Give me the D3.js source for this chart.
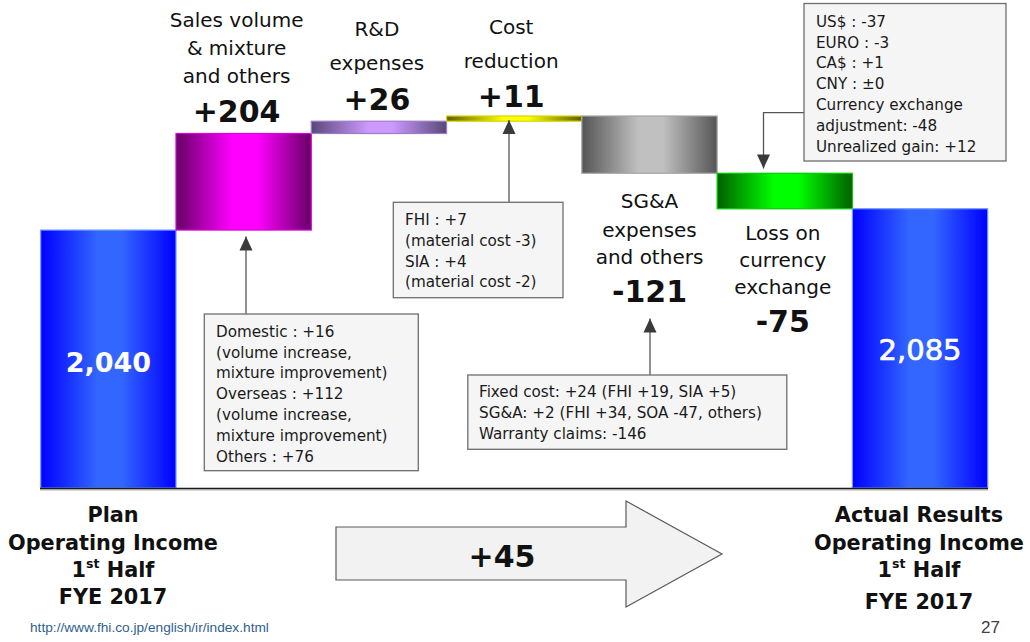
<!DOCTYPE html>
<html>
<head>
<meta charset="utf-8">
<script src="https://cdn.jsdelivr.net/npm/d3@7/dist/d3.min.js"></script>
<style>
  html, body { margin: 0; padding: 0; background: #fff; }
  svg { display: block; }
  text { font-family: "DejaVu Sans", Verdana, sans-serif; }
</style>
</head>
<body>
<div id="chart"></div>
<script>
"use strict";

// waterfall steps, plan -> actual (100 million yen)
var categories = ["Plan", "Sales", "R&D", "Cost", "SG&A", "Loss", "Actual"];
var values = [2040, 204, 26, 11, -121, -75, 2085];
var totals = [true, false, false, false, false, false, true];

var stepNames = [
  null,
  ["Sales volume", "& mixture", "and others"],
  ["R&D", "expenses"],
  ["Cost", "reduction"],
  ["SG&A", "expenses", "and others"],
  ["Loss on", "currency", "exchange"],
  null
];

var salesNotes = ["Domestic : +16", "(volume increase,", "mixture improvement)",
  "Overseas : +112", "(volume increase,", "mixture improvement)", "Others : +76"];
var costNotes = ["FHI : +7", "(material cost -3)", "SIA : +4", "(material cost -2)"];
var sgaNotes = ["Fixed cost: +24 (FHI +19, SIA +5)", "SG&A: +2 (FHI +34, SOA -47, others)",
  "Warranty claims: -146"];
var fxNotes = ["US$ : -37", "EURO : -3", "CA$ : +1", "CNY : \u00b10", "Currency exchange",
  "adjustment: -48", "Unrealized gain: +12"];

var leftTitle = ["Plan", "Operating Income", "1|st| Half", "FYE 2017"];
var rightTitle = ["Actual Results", "Operating Income", "1|st| Half", "FYE 2017"];
var changeLabel = "+45";

var width = 1030, height = 642;

var svg = d3.select("#chart").append("svg")
  .attr("width", width)
  .attr("height", height);

var defs = svg.append("defs");

// cylinder look: dark edges, bright middle
var palette = {
  blue:    { edge: "#0000ff", mid: "#3366ff", line: "#6b9bff" },
  magenta: { edge: "#660066", mid: "#ff00ff", line: "#dd00dd" },
  lilac:   { edge: "#584878", mid: "#cc99ff", line: "#9c7cc8" },
  yellow:  { edge: "#5e5e00", mid: "#ffff00", line: "#d8d800" },
  gray:    { edge: "#555555", mid: "#c0c0c0", line: "#a6a6a6" },
  green:   { edge: "#006000", mid: "#00ff00", line: "#00cc00" }
};
var barColor = ["blue", "magenta", "lilac", "yellow", "gray", "green", "blue"];

Object.keys(palette).forEach(function(k) {
  var g = defs.append("linearGradient").attr("id", "g-" + k)
    .attr("x1", "0%").attr("x2", "100%").attr("y1", "0%").attr("y2", "0%");
  g.append("stop").attr("offset", "0%").attr("stop-color", palette[k].edge);
  g.append("stop").attr("offset", "42%").attr("stop-color", palette[k].mid);
  g.append("stop").attr("offset", "60%").attr("stop-color", palette[k].mid);
  g.append("stop").attr("offset", "100%").attr("stop-color", palette[k].edge);
});

// running totals
var steps = [], run = 0;
values.forEach(function(v, i) {
  if (totals[i]) { steps.push({ i: i, lo: 1495, hi: v, v: v }); run = v; }
  else { var s = run; run += v; steps.push({ i: i, lo: Math.min(s, run), hi: Math.max(s, run), v: v }); }
});

var x = d3.scaleBand().domain(categories).range([40.7, 987.7]).padding(0);
var y = d3.scaleLinear().domain([1495, 2281]).range([488, 116]);

var cx = function(i) { return x(categories[i]) + x.bandwidth() / 2; };

svg.selectAll("rect.bar")
  .data(steps)
  .enter().append("rect")
    .attr("class", "bar")
    .attr("x", function(d) { return x(categories[d.i]); })
    .attr("y", function(d) { return y(d.hi); })
    .attr("width", x.bandwidth())
    .attr("height", function(d) { return y(d.lo) - y(d.hi); })
    .style("fill", function(d) { return "url(#g-" + barColor[d.i] + ")"; })
    .style("stroke", function(d) { return palette[barColor[d.i]].line; })
    .style("stroke-width", 1.2);

// baseline
svg.append("line")
  .attr("x1", 40).attr("x2", 988).attr("y1", y(1495) + 0.5).attr("y2", y(1495) + 0.5)
  .style("stroke", "#d8d8d8").style("stroke-width", 2).attr("transform", "translate(0,1.5)");
svg.append("line")
  .attr("x1", 40).attr("x2", 988).attr("y1", y(1495) + 0.5).attr("y2", y(1495) + 0.5)
  .style("stroke", "#1a1a1a").style("stroke-width", 1.5);

// totals inside bars
svg.append("text")
  .attr("x", cx(0)).attr("y", 362)
  .attr("text-anchor", "middle").attr("dominant-baseline", "central")
  .style("font-size", "27px").style("font-weight", "bold").style("fill", "#fff")
  .text(d3.format(",")(values[0]));
svg.append("text")
  .attr("x", cx(6)).attr("y", 350)
  .attr("text-anchor", "middle").attr("dominant-baseline", "central")
  .style("font-size", "29px").style("fill", "#fff")
  .style("stroke", "#fff").style("stroke-width", 0.7)
  .text(d3.format(",")(values[6]));

// step captions
var capLayout = {
  1: { dx: -7, lines: [20, 48.3, 76], val: 111.7 },
  2: { dx: -2, lines: [29.3, 62.7], val: 99.3 },
  3: { dx: -3, lines: [26.7, 61], val: 96.7 },
  4: { dx: 0, lines: [200.7, 230, 256.7], val: 291.7 },
  5: { dx: -2, lines: [232.7, 260, 287.3], val: 321.7 }
};
var signed = function(v) { return v > 0 ? "+" + v : String(v); };

d3.range(1, 6).forEach(function(i) {
  var L = capLayout[i];
  var g = svg.append("g");
  g.selectAll("text.cap")
    .data(stepNames[i])
    .enter().append("text")
      .attr("class", "cap")
      .attr("x", cx(i) + L.dx)
      .attr("y", function(d, k) { return L.lines[k]; })
      .attr("text-anchor", "middle").attr("dominant-baseline", "central")
      .style("font-size", "20px").style("fill", "#111")
      .text(function(d) { return d; });
  g.append("text")
    .attr("x", cx(i) + L.dx).attr("y", L.val)
    .attr("text-anchor", "middle").attr("dominant-baseline", "central")
    .style("font-size", "30px").style("font-weight", "bold").style("fill", "#111")
    .text(signed(values[i]));
});

// note boxes with pointer arrows
function noteBox(lines, box, textX, firstY) {
  var g = svg.append("g");
  g.append("rect")
    .attr("x", box[0]).attr("y", box[1])
    .attr("width", box[2] - box[0]).attr("height", box[3] - box[1])
    .style("fill", "#f5f5f5").style("stroke", "#6e6e6e").style("stroke-width", 1.3);
  g.selectAll("text")
    .data(lines)
    .enter().append("text")
      .attr("x", textX)
      .attr("y", function(d, k) { return firstY + k * 20.8; })
      .attr("dominant-baseline", "central")
      .style("font-size", "15.2px").style("fill", "#1a1a1a")
      .text(function(d) { return d; });
}

function pointer(pts, dir) {
  svg.append("path")
    .attr("d", d3.line()(pts))
    .style("fill", "none").style("stroke", "#555").style("stroke-width", 1.3);
  var tip = pts[pts.length - 1];
  var h = 14, w = 6.5;
  var tri = dir === "up"
    ? [[tip[0], tip[1]], [tip[0] - w, tip[1] + h], [tip[0] + w, tip[1] + h]]
    : [[tip[0], tip[1]], [tip[0] - w, tip[1] - h], [tip[0] + w, tip[1] - h]];
  svg.append("path")
    .attr("d", d3.line()(tri) + "Z")
    .style("fill", "#3a3a3a");
}

pointer([[246, 314], [246, 236.5]], "up");
noteBox(salesNotes, [204.3, 314, 418.3, 470.7], 216, 331.7);

pointer([[509, 202.3], [509, y(2281) + 4]], "up");
noteBox(costNotes, [393.3, 202.3, 563, 297.7], 405, 220);

pointer([[650, 375], [650, 318.5]], "up");
noteBox(sgaNotes, [467.8, 375, 786.8, 449.3], 479, 392.3);

pointer([[804, 112.7], [763.5, 112.7], [763.5, 168.5]], "down");
noteBox(fxNotes, [804, 3.5, 1006, 161], 816, 21.7);

// bottom titles
function title(lines, cxPos, ys) {
  lines.forEach(function(t, k) {
    var parts = t.split("|");
    var txt = svg.append("text")
      .attr("x", cxPos).attr("y", ys[k])
      .attr("text-anchor", "middle").attr("dominant-baseline", "central")
      .style("font-size", "20.8px").style("font-weight", "bold").style("fill", "#111");
    if (parts.length === 1) { txt.text(t); return; }
    txt.append("tspan").text(parts[0]);
    txt.append("tspan").attr("dy", -7).style("font-size", "12.5px").text(parts[1]);
    txt.append("tspan").attr("dy", 7).text(parts[2]);
  });
}
title(leftTitle, 113, [515, 542.7, 570, 596.7]);
title(rightTitle, 919, [515, 542.7, 570, 602]);

// overall change arrow
var arrowPts = [[336, 527], [626, 527], [626, 501], [722, 554], [626, 607], [626, 580], [336, 580]];
svg.append("path")
  .attr("d", d3.line()(arrowPts) + "Z")
  .style("fill", "#f2f2f2").style("stroke", "#5a5a5a").style("stroke-width", 1.2);
svg.append("text")
  .attr("x", 502).attr("y", 556)
  .attr("text-anchor", "middle").attr("dominant-baseline", "central")
  .style("font-size", "30px").style("font-weight", "bold").style("fill", "#111")
  .text(changeLabel);

// footer
svg.append("text")
  .attr("x", 30).attr("y", 627)
  .attr("dominant-baseline", "central")
  .style("font-family", "'Liberation Sans', Arial, sans-serif")
  .style("font-size", "13.7px").style("fill", "#2f5f8f")
  .text("http://www.fhi.co.jp/english/ir/index.html");
svg.append("text")
  .attr("x", 1000).attr("y", 627)
  .attr("text-anchor", "end").attr("dominant-baseline", "central")
  .style("font-family", "'Liberation Sans', Arial, sans-serif")
  .style("font-size", "17px").style("fill", "#404040")
  .text("27");
</script>
</body>
</html>
